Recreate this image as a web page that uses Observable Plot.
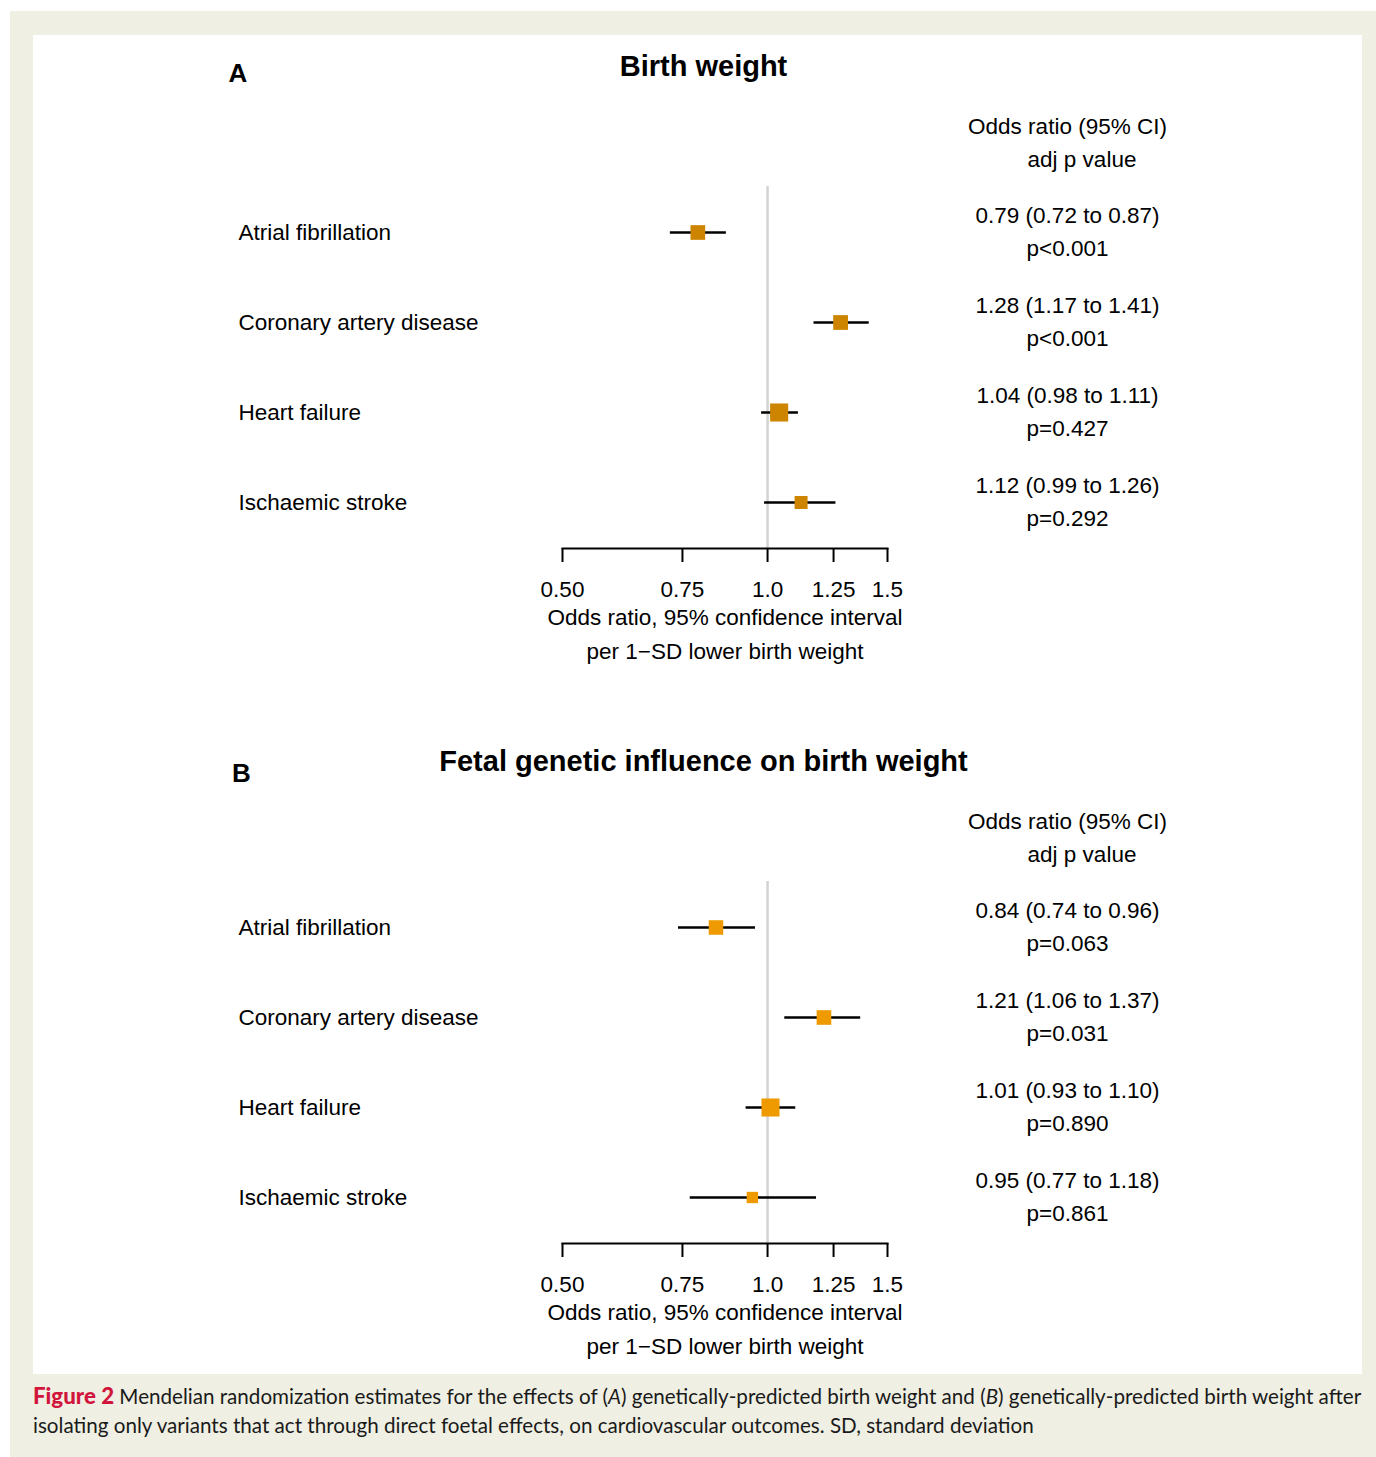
<!DOCTYPE html>
<html>
<head>
<meta charset="utf-8">
<script src="https://cdn.jsdelivr.net/npm/d3@7"></script>
<script src="https://cdn.jsdelivr.net/npm/@observablehq/plot@0.6"></script>
<style>
  html, body { margin: 0; padding: 0; background: #ffffff; }
  #page { position: relative; width: 1376px; height: 1457px; overflow: hidden; }
  #beige { position: absolute; left: 10px; top: 11px; width: 1366px; height: 1446px; background: #efefe3; }
  #panel { position: absolute; left: 33px; top: 35px; width: 1329px; height: 1339px; background: #ffffff; }
  #panelA { position: absolute; left: 0; top: 0; }
  #panelB { position: absolute; left: 0; top: 695px; }
  #caption { position: absolute; left: 33px; top: 1381px; font-family: Lato, "Open Sans", sans-serif; color: #1a1a1a; line-height: 29px; font-size: 20px; }
  #caption div { white-space: nowrap; }
  #caption b { color: #d2153c; font-weight: 900; font-size: 1.08em; }
</style>
</head>
<body>
<div id="page">
  <div id="beige"></div>
  <div id="panel">
    <div id="panelA"></div>
    <div id="panelB"></div>
  </div>
  <div id="caption">
    <div id="cap1"><b>Figure 2</b> Mendelian randomization estimates for the effects of (<i>A</i>) genetically-predicted birth weight and (<i>B</i>) genetically-predicted birth weight after</div>
    <div id="cap2">isolating only variants that act through direct foetal effects, on cardiovascular outcomes. SD, standard deviation</div>
  </div>
</div>
<script>
// ---- data ----
const outcomes = ["Atrial fibrillation", "Coronary artery disease", "Heart failure", "Ischaemic stroke"];

const orA = [0.79, 1.28, 1.04, 1.12];
const loA = [0.72, 1.17, 0.98, 0.99];
const hiA = [0.87, 1.41, 1.11, 1.26];
const pA  = ["p<0.001", "p<0.001", "p=0.427", "p=0.292"];

const orB = [0.84, 1.21, 1.01, 0.95];
const loB = [0.74, 1.06, 0.93, 0.77];
const hiB = [0.96, 1.37, 1.10, 1.18];
const pB  = ["p=0.063", "p=0.031", "p=0.890", "p=0.861"];

const tickValues = [0.5, 0.75, 1, 1.25, 1.5];
const tickLabels = ["0.50", "0.75", "1.0", "1.25", "1.5"];

const titleA = "Birth weight";
const titleB = "Fetal genetic influence on birth weight";
const headerCI = "Odds ratio (95% CI)";
const headerP = "adj p value";
const xLabel1 = "Odds ratio, 95% confidence interval";
const xLabel2 = "per 1\u2212SD lower birth weight";

// ---- build ----
function makeRows(or, lo, hi, p) {
  return outcomes.map((o, i) => ({
    outcome: o, or: or[i], lo: lo[i], hi: hi[i], p: p[i],
    prec: 1 / (Math.log(hi[i]) - Math.log(lo[i]))
  }));
}

const FONT = '"Liberation Sans", Arial, Helvetica, sans-serif';
const FS = 22.5;

function panel(rows, opts) {
  const maxPrec = d3.max(rows, d => d.prec);
  const height = opts.height;
  const T = { lineAnchor: "middle", fontSize: FS };
  return Plot.plot({
    width: 1329,
    height: height,
    marginLeft: 529,
    marginRight: 475,
    marginTop: 151,
    marginBottom: height - 513,
    x: { type: "log", domain: [0.5, 1.5], label: null },
    y: { type: "point", domain: outcomes, range: [197, 467], padding: 0, axis: null },
    r: { type: "sqrt", domain: [0, maxPrec], range: [0, 10.2] },
    style: { fontFamily: FONT, fontSize: FS + "px", color: "#000", background: "transparent", overflow: "visible" },
    marks: [
      Plot.ruleX([1], { stroke: "#d3d3d3", strokeWidth: 2.5 }),
      Plot.frame({ anchor: "bottom", stroke: "#000", strokeWidth: 2 }),
      Plot.axisX(tickValues, { tickFormat: () => "", tickSize: 14, strokeWidth: 2, label: null }),
      Plot.text(tickValues, { ...T, x: d => d, text: (d, i) => tickLabels[i], frameAnchor: "bottom", dy: 41 }),
      Plot.ruleY(rows, { y: "outcome", x1: "lo", x2: "hi", stroke: "#000", strokeWidth: 2.5 }),
      Plot.dot(rows, { x: "or", y: "outcome", r: "prec", symbol: "square", fill: opts.color, stroke: null }),
      Plot.text(rows, { ...T, y: "outcome", text: "outcome", frameAnchor: "left", dx: -324, textAnchor: "start" }),
      Plot.text(rows, {
        ...T, y: "outcome",
        text: d => `${d.or.toFixed(2)} (${d.lo.toFixed(2)} to ${d.hi.toFixed(2)})`,
        frameAnchor: "right", dx: 180, dy: -17, textAnchor: "middle"
      }),
      Plot.text(rows, { ...T, y: "outcome", text: "p", frameAnchor: "right", dx: 180, dy: 16, textAnchor: "middle" }),
      Plot.text([headerCI], { ...T, text: d => d, frameAnchor: "top-right", dx: 180, dy: -59.5, textAnchor: "middle" }),
      Plot.text([headerP], { ...T, text: d => d, frameAnchor: "top-right", dx: 194.5, dy: -26.5, textAnchor: "middle" }),
      Plot.text([opts.title], { lineAnchor: "middle", text: d => d, frameAnchor: "top", textAnchor: "middle", dx: -21.5, dy: opts.titleDy, fontWeight: "bold", fontSize: 29 }),
      Plot.text([opts.letter], { lineAnchor: "middle", text: d => d, frameAnchor: "top-left", textAnchor: "middle", dx: opts.letterDx, dy: opts.letterDy, fontWeight: "bold", fontSize: 26 }),
      Plot.text([xLabel1], { ...T, text: d => d, frameAnchor: "bottom", dy: 69 }),
      Plot.text([xLabel2], { ...T, text: d => d, frameAnchor: "bottom", dy: 103 })
    ]
  });
}

const rowsA = makeRows(orA, loA, hiA, pA);
const rowsB = makeRows(orB, loB, hiB, pB);

document.getElementById("panelA").appendChild(
  panel(rowsA, { height: 695, color: "#cd8500", title: titleA, letter: "A", titleDy: -120, letterDx: -324.5, letterDy: -113 })
);
document.getElementById("panelB").appendChild(
  panel(rowsB, { height: 644, color: "#ee9a00", title: titleB, letter: "B", titleDy: -120, letterDx: -321, letterDy: -108 })
);

// fit caption line width to the panel width
const cap1 = document.getElementById("cap1");
const cap = document.getElementById("caption");
const w = cap1.getBoundingClientRect().width;
const target = 1328;
cap.style.fontSize = (20 * target / w).toFixed(2) + "px";
</script>
</body>
</html>
